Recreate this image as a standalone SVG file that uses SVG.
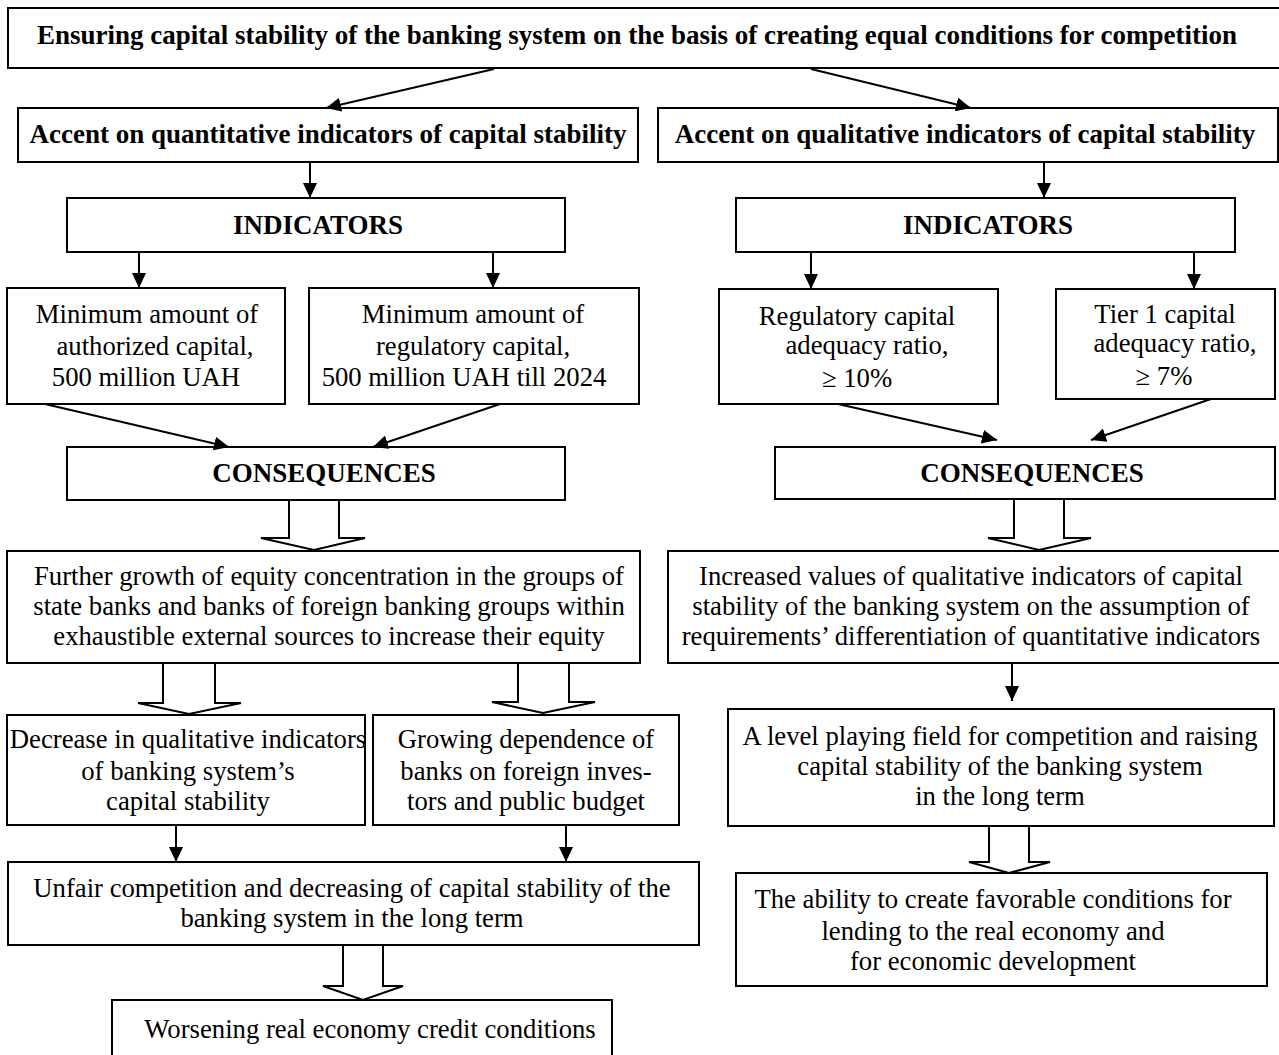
<svg xmlns="http://www.w3.org/2000/svg" width="1279" height="1055" viewBox="0 0 1279 1055">
<style>
.box{fill:#fff;stroke:#000;stroke-width:2}
.t{font-family:"Liberation Serif","Times New Roman",serif;font-size:26.7px;fill:#000;text-anchor:middle}
.b{font-family:"Liberation Serif","Times New Roman",serif;font-size:27px;font-weight:bold;fill:#000;text-anchor:middle}
.ln{stroke:#000;stroke-width:2;fill:none}
.blk{fill:#fff;stroke:#000;stroke-width:2;stroke-linejoin:miter}
</style>
<defs>
<marker id="ah" viewBox="0 0 15 14" refX="15" refY="7" markerWidth="15" markerHeight="14" markerUnits="userSpaceOnUse" orient="auto">
<path d="M0,0 L15,7 L0,14 z" fill="#000"/>
</marker>
</defs>
<rect width="1279" height="1055" fill="#fff"/>

<g id="n-top">
<rect class="box" x="8" y="8" width="1272" height="60"/>
<text class="b" x="637" y="44">Ensuring capital stability of the banking system on the basis of creating equal conditions for competition</text>
</g>
<g id="n-quant">
<rect class="box" x="18" y="108" width="620" height="54"/>
<text class="b" x="328" y="143">Accent on quantitative indicators of capital stability</text>
</g>
<g id="n-qual">
<rect class="box" x="658" y="108" width="620" height="54"/>
<text class="b" x="965" y="143">Accent on qualitative indicators of capital stability</text>
</g>
<g id="n-ind-l">
<rect class="box" x="67" y="198" width="498" height="54"/>
<text class="b" x="318" y="234">INDICATORS</text>
</g>
<g id="n-ind-r">
<rect class="box" x="736" y="198" width="499" height="54"/>
<text class="b" x="988" y="234">INDICATORS</text>
</g>
<g id="n-min-auth">
<rect class="box" x="7" y="288" width="278" height="116"/>
<text class="t" x="147" y="323">Minimum amount of</text>
<text class="t" x="155" y="355">authorized capital,</text>
<text class="t" x="146" y="386">500 million UAH</text>
</g>
<g id="n-min-reg">
<rect class="box" x="309" y="288" width="330" height="116"/>
<text class="t" x="473" y="323">Minimum amount of</text>
<text class="t" x="473" y="355">regulatory capital,</text>
<text class="t" x="464" y="386">500 million UAH till 2024</text>
</g>
<g id="n-reg-ratio">
<rect class="box" x="719" y="289" width="279" height="115"/>
<text class="t" x="857" y="325">Regulatory capital</text>
<text class="t" x="867" y="354">adequacy ratio,</text>
<text class="t" x="857" y="387">≥ 10%</text>
</g>
<g id="n-tier1">
<rect class="box" x="1056" y="289" width="219" height="110"/>
<text class="t" x="1165" y="323">Tier 1 capital</text>
<text class="t" x="1175" y="352">adequacy ratio,</text>
<text class="t" x="1164" y="385">≥ 7%</text>
</g>
<g id="n-cons-l">
<rect class="box" x="67" y="447" width="498" height="53"/>
<text class="b" x="324" y="482">CONSEQUENCES</text>
</g>
<g id="n-cons-r">
<rect class="box" x="775" y="447" width="500" height="52"/>
<text class="b" x="1032" y="482">CONSEQUENCES</text>
</g>
<g id="n-further">
<rect class="box" x="7" y="551" width="633" height="112"/>
<text class="t" x="329" y="585">Further growth of equity concentration in the groups of</text>
<text class="t" x="329" y="615">state banks and banks of foreign banking groups within</text>
<text class="t" x="329" y="645">exhaustible external sources to increase their equity</text>
</g>
<g id="n-increased">
<rect class="box" x="668" y="551" width="612" height="112"/>
<text class="t" x="971" y="585">Increased values of qualitative indicators of capital</text>
<text class="t" x="971" y="615">stability of the banking system on the assumption of</text>
<text class="t" x="971" y="645">requirements’ differentiation of quantitative indicators</text>
</g>
<g id="n-decrease">
<rect class="box" x="7" y="715" width="358" height="110"/>
<text class="t" x="188" y="748">Decrease in qualitative indicators</text>
<text class="t" x="188" y="780">of banking system’s</text>
<text class="t" x="188" y="810">capital stability</text>
</g>
<g id="n-growing">
<rect class="box" x="373" y="715" width="306" height="110"/>
<text class="t" x="526" y="748">Growing dependence of</text>
<text class="t" x="526" y="780">banks on foreign inves-</text>
<text class="t" x="526" y="810">tors and public budget</text>
</g>
<g id="n-level">
<rect class="box" x="728" y="709" width="546" height="117"/>
<text class="t" x="1000" y="745">A level playing field for competition and raising</text>
<text class="t" x="1000" y="775">capital stability of the banking system</text>
<text class="t" x="1000" y="805">in the long term</text>
</g>
<g id="n-unfair">
<rect class="box" x="8" y="862" width="691" height="83"/>
<text class="t" x="352" y="897">Unfair competition and decreasing of capital stability of the</text>
<text class="t" x="352" y="927">banking system in the long term</text>
</g>
<g id="n-worsening">
<rect class="box" x="112" y="1000" width="500" height="60"/>
<text class="t" x="370" y="1038">Worsening real economy credit conditions</text>
</g>
<g id="n-ability">
<rect class="box" x="736" y="873" width="531" height="113"/>
<text class="t" x="993" y="908">The ability to create favorable conditions for</text>
<text class="t" x="993" y="940">lending to the real economy and</text>
<text class="t" x="993" y="970">for economic development</text>
</g>

<g id="connectors">
<line class="ln" x1="494" y1="69" x2="326" y2="108" marker-end="url(#ah)"/>
<line class="ln" x1="811" y1="69" x2="971" y2="108" marker-end="url(#ah)"/>
<line class="ln" x1="310" y1="162" x2="310" y2="198" marker-end="url(#ah)"/>
<line class="ln" x1="1044" y1="162" x2="1044" y2="198" marker-end="url(#ah)"/>
<line class="ln" x1="139" y1="252" x2="139" y2="288" marker-end="url(#ah)"/>
<line class="ln" x1="493" y1="252" x2="493" y2="288" marker-end="url(#ah)"/>
<line class="ln" x1="811" y1="252" x2="811" y2="289" marker-end="url(#ah)"/>
<line class="ln" x1="1194" y1="252" x2="1194" y2="289" marker-end="url(#ah)"/>
<line class="ln" x1="45" y1="404" x2="229" y2="447" marker-end="url(#ah)"/>
<line class="ln" x1="500" y1="404" x2="373" y2="447" marker-end="url(#ah)"/>
<line class="ln" x1="838" y1="404" x2="997" y2="440" marker-end="url(#ah)"/>
<line class="ln" x1="1211" y1="399" x2="1091" y2="440" marker-end="url(#ah)"/>
<line class="ln" x1="1012" y1="663" x2="1012" y2="701" marker-end="url(#ah)"/>
<line class="ln" x1="176" y1="825" x2="176" y2="862" marker-end="url(#ah)"/>
<line class="ln" x1="566" y1="825" x2="566" y2="862" marker-end="url(#ah)"/>
<path class="blk" d="M289,501 L289,538 L261,538 L314,550 L365,538 L339,538 L339,501"/>
<path class="blk" d="M1014,500 L1014,538 L988,538 L1039,550 L1091,538 L1064,538 L1064,500"/>
<path class="blk" d="M163,664 L163,703 L138,703 L189,714 L241,703 L215,703 L215,664"/>
<path class="blk" d="M518,664 L518,702 L492,702 L543,713 L595,702 L569,702 L569,664"/>
<path class="blk" d="M343,946 L343,986 L323,986 L363,1000 L403,986 L383,986 L383,946"/>
<path class="blk" d="M989,827 L989,862 L969,862 L1009,873 L1050,862 L1029,862 L1029,827"/>
</g>
</svg>
